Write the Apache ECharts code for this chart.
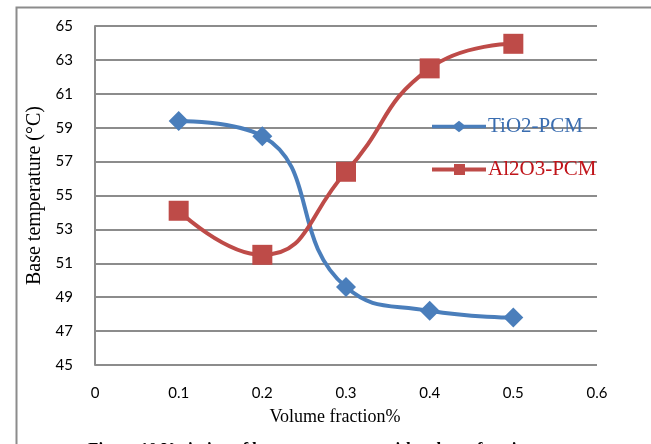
<!DOCTYPE html>
<html>
<head>
<meta charset="utf-8">
<script src="https://cdn.jsdelivr.net/npm/echarts@6/dist/echarts.min.js"></script>
<style>html,body{margin:0;padding:0;background:#fff;}#c{width:651px;height:444px;}</style>
</head>
<body>
<div id="c"></div>
<script>
var volumeFraction = [0.1, 0.2, 0.3, 0.4, 0.5];
var tio2 = [59.4, 58.5, 49.6, 48.2, 47.8];
var al2o3 = [54.1, 51.5, 56.4, 62.5, 63.95];
var xTicks = [0, 0.1, 0.2, 0.3, 0.4, 0.5, 0.6];
var yTicks = [45, 47, 49, 51, 53, 55, 57, 59, 61, 63, 65];

function pairs(xs, ys){ return xs.map(function(x,i){ return [x, ys[i]]; }); }

var diamondIcon = 'path://M0,4 L22,4 L27,0 L32,4 L54,4 L54,7.5 L32,7.5 L27,11.5 L22,7.5 L0,7.5 Z';
var squareIcon = 'path://M0,3.5 L22,3.5 L22,0 L33,0 L33,3.5 L54,3.5 L54,7.5 L33,7.5 L33,11 L22,11 L22,7.5 L0,7.5 Z';

var chart = echarts.init(document.getElementById('c'), null, {renderer:'canvas'});
chart.setOption({
  animation:false,
  backgroundColor:'#fff',
  grid:{left:95, right:54, top:26, bottom:79},
  xAxis:{
    type:'value', min:0, max:0.6, interval:0.1,
    name:'Volume fraction%', nameLocation:'middle', nameGap:43,
    nameTextStyle:{fontFamily:'Liberation Serif', fontSize:18, color:'#000', padding:[0,22,0,0]},
    axisLine:{show:false}, axisTick:{show:false}, splitLine:{show:false},
    axisLabel:{fontFamily:'Lato, Open Sans, sans-serif', fontSize:15, color:'#000', margin:21,
      formatter:function(v){ return String(Math.round(v*10)/10); }}
  },
  yAxis:{
    type:'value', min:45, max:65, interval:2,
    name:'Base temperature (°C)', nameLocation:'middle', nameGap:49,
    nameTextStyle:{fontFamily:'Liberation Serif', fontSize:20, color:'#000'},
    axisLine:{show:true, lineStyle:{color:'#8c8c8c', width:2}}, axisTick:{show:false},
    splitLine:{lineStyle:{color:'#8c8c8c', width:2}},
    axisLabel:{fontFamily:'Lato, Open Sans, sans-serif', fontSize:15, color:'#000', margin:22}
  },
  legend:{
    orient:'vertical', left:432, top:116, itemGap:22, padding:0,
    itemWidth:54, itemHeight:12,
    textStyle:{fontFamily:'Liberation Serif', fontSize:21, padding:[0,0,0,-3]},
    data:[
      {name:'TiO2-PCM', icon:diamondIcon, textStyle:{color:'#3a6db0'}},
      {name:'Al2O3-PCM', icon:squareIcon, textStyle:{color:'#c0141a'}}
    ]
  },
  series:[
    {name:'TiO2-PCM', type:'line', data:pairs(volumeFraction, tio2), smooth:0.5,
     symbol:'diamond', symbolSize:20, color:'#4a7ebb',
     lineStyle:{width:4, color:'#4a7ebb'}, itemStyle:{color:'#4a7ebb'}},
    {name:'Al2O3-PCM', type:'line', data:pairs(volumeFraction, al2o3), smooth:0.5,
     symbol:'rect', symbolSize:20, color:'#be4b48',
     lineStyle:{width:4, color:'#be4b48'}, itemStyle:{color:'#be4b48'}}
  ],
  graphic:[
    {type:'rect', left:14, top:5, shape:{width:700, height:500}, style:{fill:'none', stroke:'#8c8c8c', lineWidth:2}, z:-1},
    {type:'text', left:88, top:441, style:{text:'Figure 10 Variation of base temperature with volume fraction', font:'bold 17px Liberation Serif', fill:'#000'}}
  ]
});
</script>
</body>
</html>
